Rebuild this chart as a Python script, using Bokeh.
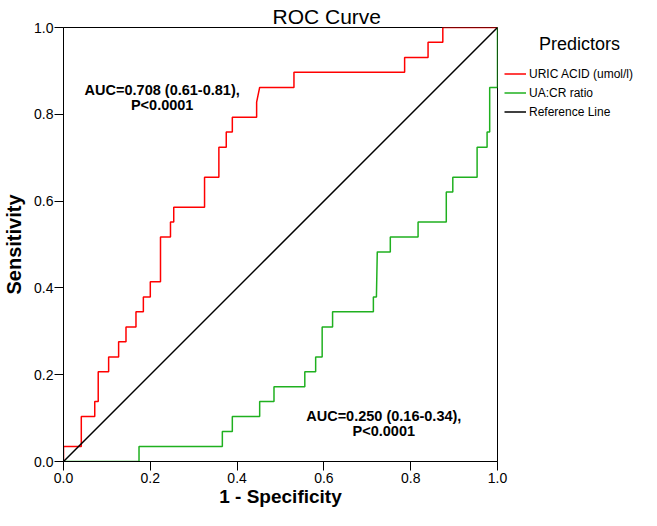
from bokeh.plotting import figure
from bokeh.models import Range1d, FixedTicker, Label, Legend, LegendItem
from bokeh.embed import file_html
from bokeh.resources import INLINE

# ROC coordinates (1 - specificity, sensitivity)
uric_fpr = [0.0, 0.0, 0.041, 0.041, 0.072, 0.072, 0.080, 0.080, 0.104, 0.104,
            0.127, 0.127, 0.144, 0.144, 0.167, 0.167, 0.184, 0.184, 0.200, 0.200,
            0.2235, 0.2235, 0.2465, 0.2465, 0.254, 0.254, 0.325, 0.325, 0.358, 0.358,
            0.375, 0.375, 0.389, 0.389, 0.445, 0.445, 0.452, 0.531, 0.531, 0.786,
            0.786, 0.840, 0.840, 0.874, 0.874, 1.0]
uric_tpr = [0.0, 0.0345, 0.0345, 0.1034, 0.1034, 0.138, 0.138, 0.207, 0.207, 0.241,
            0.241, 0.276, 0.276, 0.310, 0.310, 0.345, 0.345, 0.379, 0.379, 0.414,
            0.414, 0.517, 0.517, 0.552, 0.552, 0.586, 0.586, 0.655, 0.655, 0.724,
            0.724, 0.759, 0.759, 0.793, 0.793, 0.828, 0.862, 0.862, 0.897, 0.897,
            0.931, 0.931, 0.966, 0.966, 1.0, 1.0]

uacr_fpr = [0.0, 0.174, 0.174, 0.366, 0.366, 0.389, 0.389, 0.452, 0.452, 0.485,
            0.485, 0.556, 0.556, 0.581, 0.581, 0.596, 0.596, 0.620, 0.620, 0.714,
            0.714, 0.721, 0.723, 0.753, 0.753, 0.817, 0.817, 0.882, 0.882, 0.897,
            0.897, 0.953, 0.953, 0.976, 0.976, 0.982, 0.982, 1.0, 1.0]
uacr_tpr = [0.0, 0.0, 0.0345, 0.0345, 0.069, 0.069, 0.1034, 0.1034, 0.138, 0.138,
            0.172, 0.172, 0.207, 0.207, 0.241, 0.241, 0.310, 0.310, 0.345, 0.345,
            0.379, 0.379, 0.483, 0.483, 0.517, 0.517, 0.552, 0.552, 0.621, 0.621,
            0.655, 0.655, 0.724, 0.724, 0.759, 0.759, 0.862, 0.862, 1.0]

ref_x = [0.0, 1.0]
ref_y = [0.0, 1.0]

tick_values = [0.0, 0.2, 0.4, 0.6, 0.8, 1.0]
tick_labels = ["0.0", "0.2", "0.4", "0.6", "0.8", "1.0"]

series_names = ["URIC ACID (umol/l)", "UA:CR ratio", "Reference Line"]
series_colors = ["#ff0000", "#1fb01f", "#000000"]

auc_texts = [["AUC=0.708 (0.61-0.81),", "P<0.0001"],
             ["AUC=0.250 (0.16-0.34),", "P<0.0001"]]

FONT = "Liberation Sans"

p = figure(frame_width=434, frame_height=434, output_backend="svg",
           toolbar_location=None,
           x_range=Range1d(0, 1), y_range=Range1d(0, 1),
           min_border_left=63, min_border_right=144, min_border_top=27,
           min_border_bottom=49)
p.background_fill_color = "white"
p.border_fill_color = "white"
p.outline_line_color = "black"
p.outline_line_width = 1
p.xgrid.visible = False
p.ygrid.visible = False

p.title.text = "ROC Curve"
p.title.align = "left"
p.title.offset = 209
p.title.standoff = 0
p.title.text_font = FONT
p.title.text_font_size = "21px"
p.title.text_font_style = "normal"
p.title.text_color = "black"

for ax in (p.xaxis, p.yaxis):
    ax.ticker = FixedTicker(ticks=tick_values)
    ax.major_label_overrides = {v: s for v, s in zip(tick_values, tick_labels)}
    ax.minor_tick_line_color = None
    ax.major_tick_in = 0
    ax.major_tick_out = 9
    ax.axis_line_color = "black"
    ax.major_tick_line_color = "black"
    ax.major_label_text_font = FONT
    ax.major_label_text_font_size = "14px"
    ax.major_label_text_color = "black"
    ax.axis_label_text_font = FONT
    ax.axis_label_text_font_style = "bold"
    ax.axis_label_text_color = "black"

p.xaxis.axis_label = "1 - Specificity"
p.yaxis.axis_label = "Sensitivity"
p.xaxis.axis_label_text_font_size = "19px"
p.yaxis.axis_label_text_font_size = "20px"
p.xaxis.major_label_standoff = 2
p.xaxis.axis_label_standoff = 0
p.yaxis.major_label_standoff = 1
p.yaxis.axis_label_standoff = 6

r1 = p.line(uric_fpr, uric_tpr, line_color=series_colors[0], line_width=1.5)
r2 = p.line(uacr_fpr, uacr_tpr, line_color=series_colors[1], line_width=1.5)
r3 = p.line(ref_x, ref_y, line_color=series_colors[2], line_width=1.5)

legend = Legend(items=[LegendItem(label=series_names[0], renderers=[r1]),
                       LegendItem(label=series_names[1], renderers=[r2]),
                       LegendItem(label=series_names[2], renderers=[r3])],
                title="\u00a0" * 7 + "Predictors",
                title_text_font=FONT, title_text_font_size="18px",
                title_text_font_style="normal", title_text_color="black",
                title_standoff=9,
                location="top_left", padding=0, margin=7, spacing=0,
                glyph_width=22, glyph_height=19, label_height=19,
                label_standoff=3, border_line_color=None,
                background_fill_alpha=0,
                label_text_font=FONT, label_text_font_size="12px",
                label_text_color="black")
p.add_layout(legend, "right")

auc_pos = [(0.2274, [0.855, 0.822]), (0.738, [0.1045, 0.070])]
for (xc, ys), lines in zip(auc_pos, auc_texts):
    for yy, t in zip(ys, lines):
        p.add_layout(Label(x=xc, y=yy, text=t, text_align="center",
                           text_baseline="alphabetic", text_font=FONT,
                           text_font_size="14.5px", text_font_style="bold",
                           text_color="black"))

open("out.html", "w").write(file_html(p, INLINE))
